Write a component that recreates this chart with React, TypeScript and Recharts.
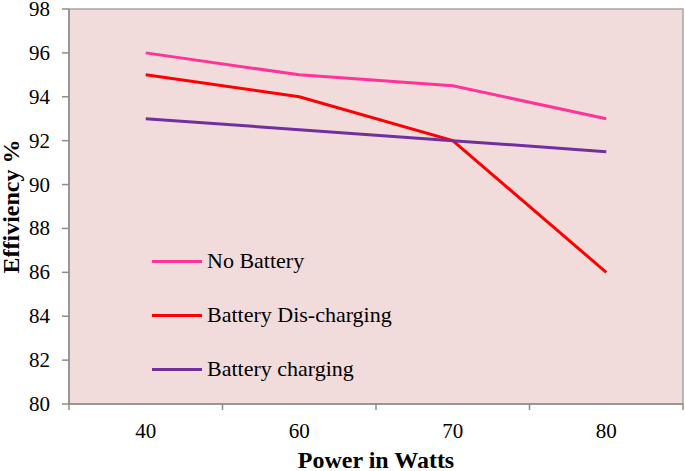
import React from 'react';
import { LineChart, Line, XAxis, YAxis, ReferenceArea, Legend } from 'recharts';

const categories = ['40', '60', '70', '80'];
const noBattery = [96, 95, 94.5, 93];
const disCharging = [95, 94, 92, 86];
const charging = [93, 92.5, 92, 91.5];
const yTicks = [80, 82, 84, 86, 88, 90, 92, 94, 96, 98];
const seriesNames = ['No Battery', 'Battery Dis-charging', 'Battery charging'];

const data = categories.map((c, i) => ({
  cat: c,
  pos: i + 0.5,
  noBattery: noBattery[i],
  disCharging: disCharging[i],
  charging: charging[i],
}));

const xTicks: number[] = [];
for (let i = 0; i <= categories.length * 2; i++) xTicks.push(i / 2);

const FONT = '"Liberation Serif", "Times New Roman", serif';

const XTick = (props: any) => {
  const { x, y, payload } = props;
  const v = payload.value;
  if (Number.isInteger(v)) {
    return <line x1={x} x2={x} y1={y} y2={y + 6} stroke="#8C8C8C" strokeWidth={1.5} />;
  }
  const label = categories[Math.floor(v)];
  return (
    <text x={x} y={y + 34} textAnchor="middle" style={{ fontFamily: FONT, fontSize: 21 }} fill="#000">
      {label}
    </text>
  );
};

const YTick = (props: any) => {
  const { x, y, payload } = props;
  return (
    <text x={x} y={y} dy={7} textAnchor="end" style={{ fontFamily: FONT, fontSize: 21 }} fill="#000">
      {payload.value}
    </text>
  );
};

const LegendContent = (props: any) => {
  const payload = [...(props.payload || [])].sort(
    (a: any, b: any) => seriesNames.indexOf(a.value) - seriesNames.indexOf(b.value)
  );
  return (
    <div style={{ fontFamily: FONT, fontSize: 22, color: '#000' }}>
      {payload.map((p: any) => (
        <div key={p.value} style={{ height: 54, display: 'flex', alignItems: 'center' }}>
          <div style={{ width: 50, height: 3, background: p.color, marginRight: 5 }} />
          <span>{p.value}</span>
        </div>
      ))}
    </div>
  );
};

export default function App() {
  return (
    <div style={{ position: 'absolute', left: 0, top: 0, width: 685, height: 471, background: '#fff', fontFamily: FONT }}>
      <LineChart
        width={685}
        height={471}
        data={data}
        margin={{ top: 9, right: 2, bottom: 0, left: 0 }}
        style={{ fontFamily: FONT }}
      >
        <ReferenceArea
          x1={0}
          x2={4}
          y1={80}
          y2={98}
          fill="#F2DCDB"
          fillOpacity={1}
          stroke="#A6A6A6"
          strokeWidth={1.5}
          ifOverflow="visible"
        />
        <XAxis
          dataKey="pos"
          type="number"
          domain={[0, 4]}
          ticks={xTicks}
          interval={0}
          tickLine={false}
          tickSize={0}
          tickMargin={0}
          height={67}
          axisLine={{ stroke: '#8C8C8C', strokeWidth: 1.5 }}
          tick={<XTick />}
          label={{
            value: 'Power in Watts',
            position: 'insideBottom',
            offset: 3,
            style: { fontFamily: FONT, fontSize: 24, fontWeight: 'bold', fill: '#000' },
          }}
        />
        <YAxis
          type="number"
          domain={[80, 98]}
          ticks={yTicks}
          interval={0}
          width={69}
          tickSize={7}
          tickMargin={12}
          tickLine={{ stroke: '#8C8C8C', strokeWidth: 1.5 }}
          axisLine={{ stroke: '#8C8C8C', strokeWidth: 1.5 }}
          tick={<YTick />}
          label={{
            value: 'Effiviency %',
            angle: -90,
            position: 'insideLeft',
            offset: 10,
            style: { fontFamily: FONT, fontSize: 24, fontWeight: 'bold', fill: '#000', textAnchor: 'middle' },
          }}
        />
        <Legend
          layout="vertical"
          verticalAlign="middle"
          align="center"
          content={<LegendContent />}
          wrapperStyle={{ position: 'absolute', left: 152, top: 234, width: 300 }}
        />
        <Line
          dataKey="noBattery"
          name="No Battery"
          stroke="#FF3399"
          strokeWidth={3}
          dot={false}
          isAnimationActive={false}
        />
        <Line
          dataKey="disCharging"
          name="Battery Dis-charging"
          stroke="#FF0000"
          strokeWidth={3}
          dot={false}
          isAnimationActive={false}
        />
        <Line
          dataKey="charging"
          name="Battery charging"
          stroke="#7030A0"
          strokeWidth={3}
          dot={false}
          isAnimationActive={false}
        />
      </LineChart>
    </div>
  );
}
